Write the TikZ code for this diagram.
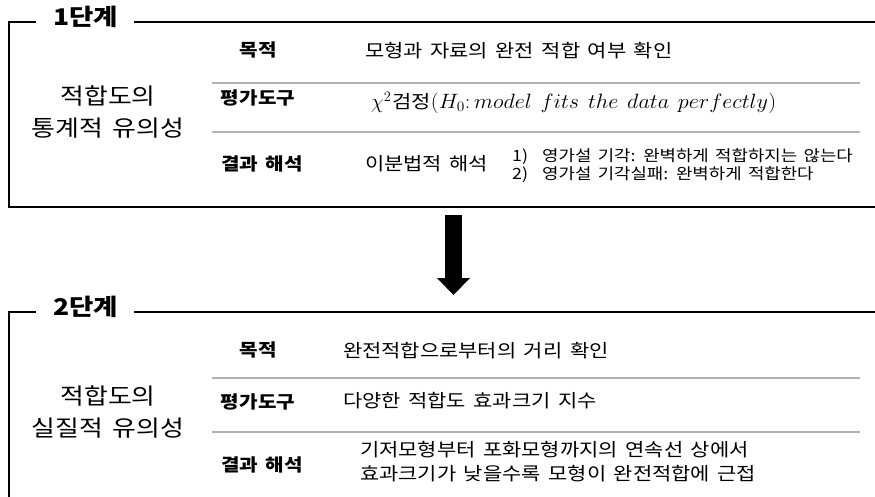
\documentclass[tikz,border=0pt]{standalone}
\usepackage{graphicx}
\usepackage{fontspec}
\setmainfont{Noto Sans CJK KR}[FakeStretch=1.15,WordSpace=1.6]
\usetikzlibrary{arrows.meta}
\begin{document}
\begin{tikzpicture}[x=1pt,y=-1pt,
  frame/.style={line width=2.6pt,line cap=rect},
  sepline/.style={draw=black!30,line width=1.1pt},
  ctr/.style={text height=.82em,text depth=.08em,inner sep=0pt},
  stage/.style={ctr,font=\bfseries\fontsize{23}{25}\selectfont,anchor=west},
  side/.style={font=\fontsize{22.5}{32}\selectfont,align=center,inner sep=0pt},
  rowlbl/.style={ctr,font=\bfseries\fontsize{17.5}{20}\selectfont,anchor=center},
  body/.style={ctr,font=\fontsize{18.2}{22}\selectfont,anchor=west},
  small/.style={font=\fontsize{15.5}{18}\selectfont,anchor=west,align=left,inner sep=0pt},
  bigarrow/.style={-{Triangle[width=32pt,length=17pt]},line width=17pt}
]
\useasboundingbox (0,0) rectangle (875,497);

% ---------- stage 1 ----------
\node[stage] (s1) at (53,22) {1단계};
\coordinate (b1tl) at (9,22);
\coordinate (b1bl) at (9,207);
\coordinate (b1br) at (876,207);
\coordinate (b1tr) at (876,22);
\draw[frame] (s1.west) ++(-18,0) -- (b1tl) -- (b1bl) -- (b1br);
\draw[frame] (s1.east) ++(17,0) -- (b1tr);

\node[side] (l1) at (108,112) {적합도의\\통계적 유의성};

\node[rowlbl] (p1) at (258,53) {목적};
\node[rowlbl] (t1) at (258,101) {평가도구};
\node[rowlbl] (r1) at (262,167) {결과 해석};

\coordinate (s1a) at (212,83);  \coordinate (s1ae) at (860,83);
\coordinate (s1b) at (212,132); \coordinate (s1be) at (860,132);
\draw[sepline] (s1a) -- (s1ae);
\draw[sepline] (s1b) -- (s1be);

\node[body] (pc1) at (365,54) {모형과 자료의 완전 적합 여부 확인};
\node[body] (tc1) at (371,105) {{\fontsize{20}{22}\selectfont$\chi^2$}\kern1pt검정\scalebox{1.07}[1]{\fontsize{20}{22}\selectfont$(H_0\colon model\ fits\ the\ data\ perfectly)$}};
\node[body] (rc1) at (365,167) {이분법적 해석};
\node[small] (lst) at (512,166) {\makebox[30pt][l]{1)}영가설 기각: 완벽하게 적합하지는 않는다\\\makebox[30pt][l]{2)}영가설 기각실패: 완벽하게 적합한다};

% ---------- arrow ----------
\coordinate (ar1) at (453.5,215);
\coordinate (ar2) at (453.5,295);
\draw[bigarrow] (ar1) -- (ar2);

% ---------- stage 2 ----------
\node[stage] (s2) at (53,312) {2단계};
\coordinate (b2tl) at (9,312);
\coordinate (b2bl) at (9,500);
\coordinate (b2tr) at (876,312);
\draw[frame] (s2.west) ++(-18,0) -- (b2tl) -- (b2bl);
\draw[frame] (s2.east) ++(17,0) -- (b2tr);

\node[side] (l2) at (108,412) {적합도의\\실질적 유의성};

\node[rowlbl] (p2) at (258,353) {목적};
\node[rowlbl] (t2) at (258,405) {평가도구};
\node[rowlbl] (r2) at (262,468) {결과 해석};

\coordinate (s2a) at (212,378); \coordinate (s2ae) at (860,378);
\coordinate (s2b) at (212,432); \coordinate (s2be) at (860,432);
\draw[sepline] (s2a) -- (s2ae);
\draw[sepline] (s2b) -- (s2be);

\node[body] (pc2) at (343,354) {완전적합으로부터의 거리 확인};
\node[body] (tc2) at (343,404) {다양한 적합도 효과크기 지수};
\node[body] (rc2a) at (360,453) {기저모형부터 포화모형까지의 연속선 상에서};
\node[body] (rc2b) at (360,477) {효과크기가 낮을수록 모형이 완전적합에 근접};
\end{tikzpicture}
\end{document}
